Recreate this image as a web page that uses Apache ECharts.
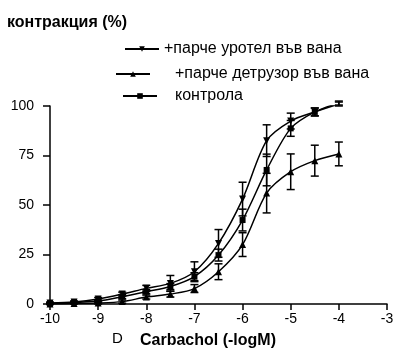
<!DOCTYPE html>
<html>
<head>
<meta charset="utf-8">
<script src="https://cdn.jsdelivr.net/npm/echarts@6/dist/echarts.min.js"></script>
<style>
html,body{margin:0;padding:0;background:#fff;}
#main{width:398px;height:359px;}
</style>
</head>
<body>
<div id="main"></div>
<script>
// концентрации (-logM)
var conc = [-10, -9.5, -9, -8.5, -8, -7.5, -7, -6.5, -6, -5.5, -5, -4.5, -4];
// средни стойности, %
var urotel = [0.5, 1, 2.5, 5, 7.9, 10.4, 16.3, 30.6, 53, 82.5, 92.4, 97, 101];
var kontrola = [0.3, 0.8, 1.5, 3.7, 6.2, 8.8, 13.8, 24.7, 42.4, 67.7, 88.7, 97, 101.5];
var detruzor = [0, 0.3, 0.5, 1.2, 3.5, 5, 7.8, 16.3, 30, 56, 66.8, 72.4, 75.8];
// грешки (+/-)
var urotelErr = [0.5, 0.5, 0.8, 1, 1.5, 4, 5, 7, 8.5, 8, 4, 2, 1];
var kontrolaErr = [0.3, 0.5, 0.5, 1, 1, 1.5, 2, 3, 5.5, 8, 4, 2, 1];
var detruzorErr = [0.3, 0.3, 0.5, 0.8, 1, 1.5, 2, 4, 6, 10, 9, 7.8, 6];
var xTicks = [-10, -9, -8, -7, -6, -5, -4, -3];
var yTicks = [0, 25, 50, 75, 100];

var names = ['+парче уротел във вана', '+парче детрузор във вана', 'контрола'];
var font = 'Liberation Sans, Arial, sans-serif';

function pts(vals){
	return conc.map(function(c, i){ return [c, vals[i]]; });
}
function errs(vals, e){
	return conc.map(function(c, i){ return [c, vals[i] - e[i], vals[i] + e[i]]; });
}

function errItem(params, api){
	var lo = api.coord([api.value(0), api.value(1)]);
	var hi = api.coord([api.value(0), api.value(2)]);
	var w = 4;
	var st = {stroke: '#000', lineWidth: 1.5};
	return {
		type: 'group',
		children: [
			{type: 'line', shape: {x1: lo[0], y1: lo[1], x2: hi[0], y2: hi[1]}, style: st},
			{type: 'line', shape: {x1: lo[0] - w, y1: lo[1], x2: lo[0] + w, y2: lo[1]}, style: st},
			{type: 'line', shape: {x1: hi[0] - w, y1: hi[1], x2: hi[0] + w, y2: hi[1]}, style: st}
		]
	};
}

function lineSeries(name, vals, sym, size){
	return {
		name: name,
		type: 'line',
		data: pts(vals),
		smooth: 0.3,
		symbol: sym,
		symbolSize: size,
		showAllSymbol: true,
		lineStyle: {color: '#000', width: 1.5},
		itemStyle: {color: '#000'},
		z: 3
	};
}

function errSeries(vals, e){
	return {type: 'custom', renderItem: errItem, data: errs(vals, e), z: 2, silent: true};
}

var chart = echarts.init(document.getElementById('main'));
var legendBase = {
	itemWidth: 34, itemHeight: 7,
	selectedMode: false,
	textStyle: {fontFamily: font, fontSize: 16, color: '#000'}
};

chart.setOption({
	animation: false,
	grid: {left: 50, right: 11, top: 106, bottom: 55},
	legend: [
		Object.assign({}, legendBase, {data: [names[0]], left: 119, top: 36}),
		Object.assign({}, legendBase, {data: [names[1]], left: 110, top: 61,
			textStyle: {fontFamily: font, fontSize: 16, color: '#000', padding: [0, 0, 0, 20]}}),
		Object.assign({}, legendBase, {data: [names[2]], left: 117, top: 83,
			textStyle: {fontFamily: font, fontSize: 16, color: '#000', padding: [0, 0, 0, 13]}})
	],
	xAxis: {
		type: 'value', min: -10, max: -3, interval: 1,
		splitLine: {show: false},
		axisLine: {lineStyle: {color: '#000', width: 1.5}},
		axisTick: {length: 6, lineStyle: {color: '#000', width: 1.5}},
		axisLabel: {color: '#000', fontFamily: font, fontSize: 14, margin: 8,
			customValues: xTicks}
	},
	yAxis: {
		type: 'value', min: 0, max: 100, interval: 25,
		splitLine: {show: false},
		axisLine: {show: true, lineStyle: {color: '#000', width: 1.5}},
		axisTick: {show: true, length: 7, lineStyle: {color: '#000', width: 1.5}},
		axisLabel: {color: '#000', fontFamily: font, fontSize: 14, margin: 16,
			customValues: yTicks}
	},
	graphic: [
		{type: 'text', left: 7, top: 15, style: {text: 'контракция (%)', fontFamily: font, fontSize: 16, fontWeight: 'bold', fill: '#000'}},
		{type: 'text', left: 112, top: 331, style: {text: 'D', fontFamily: font, fontSize: 15, fill: '#000'}},
		{type: 'text', left: 140, top: 333, style: {text: 'Carbachol (-logM)', fontFamily: font, fontSize: 16, fontWeight: 'bold', fill: '#000'}}
	],
	series: [
		errSeries(urotel, urotelErr),
		errSeries(kontrola, kontrolaErr),
		errSeries(detruzor, detruzorErr),
		lineSeries(names[0], urotel, 'triangle', 7),
		lineSeries(names[1], detruzor, 'triangle', 7),
		lineSeries(names[2], kontrola, 'rect', 6)
	]
});
// обърнат триъгълник за уротел
chart.setOption({series: [{}, {}, {}, {symbolRotate: 180}]});
</script>
</body>
</html>
